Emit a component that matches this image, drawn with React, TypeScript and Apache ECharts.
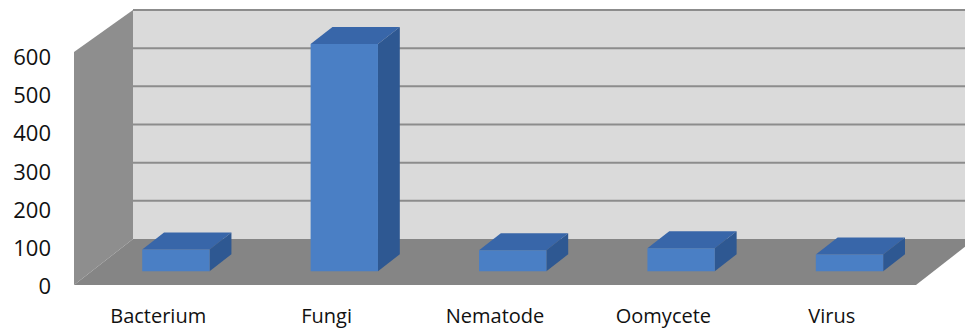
import React, { useEffect, useRef } from "react";
import * as echarts from "echarts";

// Pathogen groups and their counts
const categories = ["Bacterium", "Fungi", "Nematode", "Oomycete", "Virus"];
const counts = [57, 595, 55, 60, 44];
const yTicks = [0, 100, 200, 300, 400, 500, 600];

// Oblique projection used for the 3D look (pixels from the front plane to the back wall)
const DEPTH_X = 59;
const DEPTH_Y = -46;
// Where each column sits in depth (0 = front edge, 1 = back wall)
const COL_FRONT = 0.3;
const COL_BACK = 0.67;
const COL_WIDTH = 0.4; // share of the category band

const FONT = "'Open Sans', 'Noto Sans', sans-serif";

export default function App() {
  const ref = useRef<HTMLDivElement | null>(null);

  useEffect(() => {
    if (!ref.current) return;
    const chart = echarts.init(ref.current, undefined, { renderer: "svg" });
    const yMax = yTicks[yTicks.length - 1];

    const wallsRender = (_params: any, api: any) => {
      const band = api.size([1, 0])[0];
      const x0 = api.coord([0, 0])[0] - band / 2;
      const x1 = api.coord([categories.length - 1, 0])[0] + band / 2;
      const yBase = api.coord([0, 0])[1];
      const yTop = api.coord([0, yMax])[1];
      const children: any[] = [];
      // back wall
      children.push({
        type: "polygon",
        shape: {
          points: [
            [x0 + DEPTH_X, yBase + DEPTH_Y],
            [x1 + DEPTH_X, yBase + DEPTH_Y],
            [x1 + DEPTH_X, yTop + DEPTH_Y],
            [x0 + DEPTH_X, yTop + DEPTH_Y],
          ],
        },
        style: { fill: "#dadada" },
      });
      // gridlines on the back wall
      yTicks.forEach((t) => {
        if (t === 0) return;
        const y = api.coord([0, t])[1] + DEPTH_Y;
        children.push({
          type: "line",
          shape: { x1: x0 + DEPTH_X, y1: y, x2: x1 + DEPTH_X, y2: y },
          style: { stroke: "#8c8c8c", lineWidth: 2 },
        });
      });
      // side wall
      children.push({
        type: "polygon",
        shape: {
          points: [
            [x0, yBase],
            [x0, yTop - 4],
            [x0 + DEPTH_X, yTop + DEPTH_Y],
            [x0 + DEPTH_X, yBase + DEPTH_Y],
          ],
        },
        style: { fill: "#8e8e8e" },
      });
      // floor
      children.push({
        type: "polygon",
        shape: {
          points: [
            [x0, yBase],
            [x1, yBase],
            [x1 + DEPTH_X, yBase + DEPTH_Y],
            [x0 + DEPTH_X, yBase + DEPTH_Y],
          ],
        },
        style: { fill: "#858585" },
      });
      return { type: "group", children };
    };

    const columnRender = (_params: any, api: any) => {
      const idx = api.value(0);
      const val = api.value(1);
      const band = api.size([1, 0])[0];
      const w = band * COL_WIDTH;
      const base = api.coord([idx, 0]);
      const top = api.coord([idx, val]);
      const fx = DEPTH_X * COL_FRONT;
      const fy = DEPTH_Y * COL_FRONT;
      const bx = DEPTH_X * COL_BACK;
      const by = DEPTH_Y * COL_BACK;
      const l = base[0] - w / 2 + fx;
      const r = base[0] + w / 2 + fx;
      const yb = base[1] + fy;
      const yt = top[1] + fy;
      const dx = bx - fx;
      const dy = by - fy;
      return {
        type: "group",
        children: [
          {
            type: "polygon",
            shape: { points: [[l, yt], [r, yt], [r + dx, yt + dy], [l + dx, yt + dy]] },
            style: { fill: "#3866a9" },
          },
          {
            type: "polygon",
            shape: { points: [[r, yt], [r, yb], [r + dx, yb + dy], [r + dx, yt + dy]] },
            style: { fill: "#2e5892" },
          },
          {
            type: "polygon",
            shape: { points: [[l, yt], [r, yt], [r, yb], [l, yb]] },
            style: { fill: "#4a7fc5" },
          },
        ],
      };
    };

    chart.setOption({
      animation: false,
      backgroundColor: "#ffffff",
      grid: { left: 74, right: 49, top: 56, bottom: 44, containLabel: false },
      xAxis: {
        type: "category",
        data: categories,
        axisLine: { show: false },
        axisTick: { show: false },
        axisLabel: { fontFamily: FONT, fontSize: 20, color: "#111", margin: 20 },
      },
      yAxis: {
        type: "value",
        min: 0,
        max: yMax,
        interval: 100,
        axisLine: { show: false },
        axisTick: { show: false },
        splitLine: { show: false },
        axisLabel: { fontFamily: FONT, fontSize: 22, color: "#111", margin: 23 },
      },
      series: [
        {
          type: "custom",
          z: 1,
          silent: true,
          renderItem: wallsRender,
          data: [[0, 0]],
          encode: { x: 0, y: 1 },
        },
        {
          type: "custom",
          z: 2,
          renderItem: columnRender,
          data: counts.map((v, i) => [i, v]),
          encode: { x: 0, y: 1 },
        },
      ],
    });

    return () => chart.dispose();
  }, []);

  return (
    <div
      ref={ref}
      style={{ position: "fixed", left: 0, top: 0, width: 965, height: 329 }}
    />
  );
}
